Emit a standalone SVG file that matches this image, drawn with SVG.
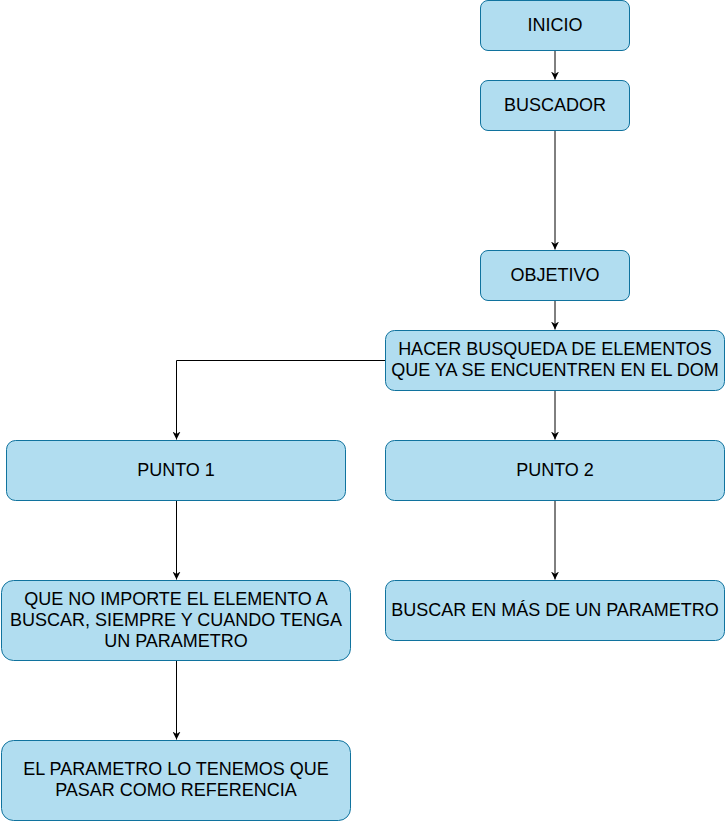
<svg xmlns="http://www.w3.org/2000/svg" width="725" height="821" viewBox="0 0 725 821">
<defs>
<style>
.n{fill:#b1ddf0;stroke:#10739e;stroke-width:1}
.t{font-family:"Liberation Sans",Arial,sans-serif;font-size:18px;fill:#000;text-anchor:middle}
.c{fill:none;stroke:#000;stroke-width:1}
</style>
<marker id="a" viewBox="0 0 10 10" refX="10" refY="5" markerWidth="8" markerHeight="8" markerUnits="userSpaceOnUse" orient="auto">
<path d="M0,0 L10,5 L0,10 L3,5 Z" fill="#000"/>
</marker>
</defs>
<rect width="725" height="821" fill="#fff"/>
<g id="connectors">
<path class="c" d="M555,50.5 V79.5" marker-end="url(#a)"/>
<path class="c" d="M555,130.5 V249.5" marker-end="url(#a)"/>
<path class="c" d="M555,300.5 V329.5" marker-end="url(#a)"/>
<path class="c" d="M385,360.5 H176.5 V439.5" marker-end="url(#a)"/>
<path class="c" d="M555,390.5 V439.5" marker-end="url(#a)"/>
<path class="c" d="M176.5,500.5 V579.5" marker-end="url(#a)"/>
<path class="c" d="M555,500.5 V579.5" marker-end="url(#a)"/>
<path class="c" d="M176.5,660.5 V739.5" marker-end="url(#a)"/>
</g>
<g id="inicio"><rect class="n" x="480.5" y="0.5" width="149" height="50" rx="7.5"/><text class="t" x="555" y="30.5">INICIO</text></g>
<g id="buscador"><rect class="n" x="480.5" y="80.5" width="149" height="50" rx="7.5"/><text class="t" x="555" y="110.5">BUSCADOR</text></g>
<g id="objetivo"><rect class="n" x="480.5" y="250.5" width="149" height="50" rx="7.5"/><text class="t" x="555" y="280.5">OBJETIVO</text></g>
<g id="hacer"><rect class="n" x="385.5" y="330.5" width="339" height="60" rx="9"/><text class="t" x="555" y="354.5">HACER BUSQUEDA DE ELEMENTOS</text><text class="t" x="555" y="375.5">QUE YA SE ENCUENTREN EN EL DOM</text></g>
<g id="punto1"><rect class="n" x="6.5" y="440.5" width="339" height="60" rx="9"/><text class="t" x="176" y="475.5">PUNTO 1</text></g>
<g id="punto2"><rect class="n" x="385.5" y="440.5" width="339" height="60" rx="9"/><text class="t" x="555" y="475.5">PUNTO 2</text></g>
<g id="queno"><rect class="n" x="1.5" y="580.5" width="349" height="80" rx="12"/><text class="t" x="176" y="604.5">QUE NO IMPORTE EL ELEMENTO A</text><text class="t" x="176" y="625.5">BUSCAR, SIEMPRE Y CUANDO TENGA</text><text class="t" x="176" y="646.5">UN PARAMETRO</text></g>
<g id="buscaren"><rect class="n" x="385.5" y="580.5" width="339" height="60" rx="9"/><text class="t" x="555" y="615.5">BUSCAR EN MÁS DE UN PARAMETRO</text></g>
<g id="elparametro"><rect class="n" x="1.5" y="740.5" width="349" height="80" rx="12"/><text class="t" x="176" y="774.5">EL PARAMETRO LO TENEMOS QUE</text><text class="t" x="176" y="795.5">PASAR COMO REFERENCIA</text></g>
</svg>
